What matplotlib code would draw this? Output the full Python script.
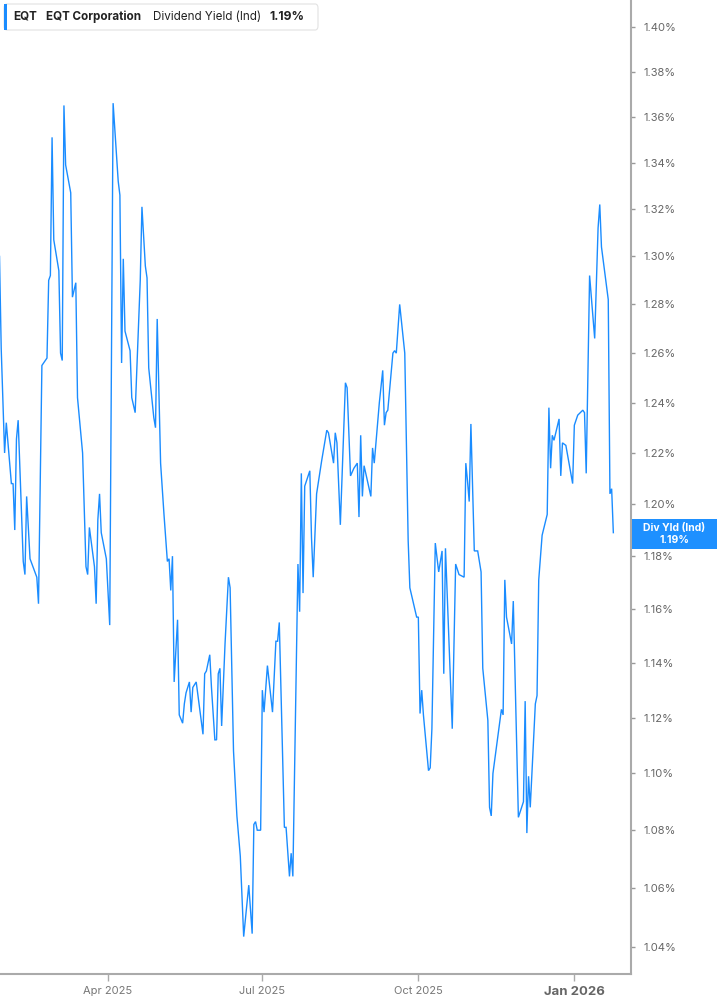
import matplotlib
matplotlib.use("Agg")
import matplotlib.pyplot as plt
import matplotlib.dates as mdates
from matplotlib.patches import FancyBboxPatch, Rectangle
from matplotlib.ticker import FixedLocator, NullLocator, FixedFormatter
import pandas as pd

# ---------------- data ----------------
dates = [
    "2025-01-27", "2025-01-28", "2025-01-30", "2025-01-31", "2025-02-03", "2025-02-04", "2025-02-05",
    "2025-02-06", "2025-02-07", "2025-02-10", "2025-02-11", "2025-02-12", "2025-02-14", "2025-02-18",
    "2025-02-19", "2025-02-21", "2025-02-24", "2025-02-25", "2025-02-26", "2025-02-27", "2025-02-28",
    "2025-03-03", "2025-03-04", "2025-03-05", "2025-03-06", "2025-03-07", "2025-03-10", "2025-03-11",
    "2025-03-13", "2025-03-14", "2025-03-17", "2025-03-19", "2025-03-20", "2025-03-21", "2025-03-24",
    "2025-03-25", "2025-03-26", "2025-03-27", "2025-03-28", "2025-03-31", "2025-04-02", "2025-04-04",
    "2025-04-07", "2025-04-08", "2025-04-09", "2025-04-10", "2025-04-11", "2025-04-14", "2025-04-15",
    "2025-04-17", "2025-04-20", "2025-04-21", "2025-04-23", "2025-04-24", "2025-04-25", "2025-04-28",
    "2025-04-29", "2025-04-30", "2025-05-02", "2025-05-04", "2025-05-06", "2025-05-07", "2025-05-08",
    "2025-05-09", "2025-05-10", "2025-05-12", "2025-05-13", "2025-05-15", "2025-05-16", "2025-05-17",
    "2025-05-19", "2025-05-20", "2025-05-21", "2025-05-23", "2025-05-27", "2025-05-28", "2025-05-29",
    "2025-05-31", "2025-06-01", "2025-06-03", "2025-06-04", "2025-06-05", "2025-06-06", "2025-06-07",
    "2025-06-09", "2025-06-11", "2025-06-12", "2025-06-14", "2025-06-16", "2025-06-18", "2025-06-20",
    "2025-06-23", "2025-06-25", "2025-06-26", "2025-06-27", "2025-06-28", "2025-06-30", "2025-07-01",
    "2025-07-02", "2025-07-04", "2025-07-07", "2025-07-09", "2025-07-10", "2025-07-11", "2025-07-14",
    "2025-07-15", "2025-07-17", "2025-07-18", "2025-07-19", "2025-07-22", "2025-07-23", "2025-07-24",
    "2025-07-25", "2025-07-26", "2025-07-29", "2025-07-30", "2025-07-31", "2025-08-02", "2025-08-05",
    "2025-08-08", "2025-08-09", "2025-08-12", "2025-08-13", "2025-08-14", "2025-08-16", "2025-08-19",
    "2025-08-20", "2025-08-22", "2025-08-24", "2025-08-26", "2025-08-27", "2025-08-28", "2025-08-29",
    "2025-08-30", "2025-09-03", "2025-09-04", "2025-09-05", "2025-09-08", "2025-09-10", "2025-09-11",
    "2025-09-12", "2025-09-13", "2025-09-16", "2025-09-17", "2025-09-18", "2025-09-20", "2025-09-23",
    "2025-09-25", "2025-09-26", "2025-09-30", "2025-10-01", "2025-10-02", "2025-10-03", "2025-10-04",
    "2025-10-07", "2025-10-08", "2025-10-09", "2025-10-11", "2025-10-13", "2025-10-15", "2025-10-16",
    "2025-10-17", "2025-10-21", "2025-10-23", "2025-10-25", "2025-10-28", "2025-10-29", "2025-10-30",
    "2025-10-31", "2025-11-01", "2025-11-03", "2025-11-05", "2025-11-07", "2025-11-08", "2025-11-11",
    "2025-11-12", "2025-11-13", "2025-11-14", "2025-11-19", "2025-11-20", "2025-11-21", "2025-11-22",
    "2025-11-25", "2025-11-26", "2025-11-29", "2025-12-02", "2025-12-03", "2025-12-04", "2025-12-05",
    "2025-12-06", "2025-12-09", "2025-12-10", "2025-12-11", "2025-12-13", "2025-12-16", "2025-12-17",
    "2025-12-18", "2025-12-19", "2025-12-20", "2025-12-23", "2025-12-24", "2025-12-25", "2025-12-27",
    "2025-12-31", "2026-01-01", "2026-01-03", "2026-01-06", "2026-01-07", "2026-01-08", "2026-01-10",
    "2026-01-13", "2026-01-15", "2026-01-16", "2026-01-17", "2026-01-21", "2026-01-22", "2026-01-23",
    "2026-01-24",
]
div_yield = [
    1.300, 1.262, 1.220, 1.232, 1.208, 1.208, 1.190,
    1.2255, 1.233, 1.178, 1.173, 1.203, 1.179, 1.172,
    1.162, 1.255, 1.258, 1.290, 1.292, 1.351, 1.307,
    1.294, 1.260, 1.257, 1.365, 1.339, 1.327, 1.283,
    1.289, 1.242, 1.220, 1.176, 1.173, 1.191, 1.176,
    1.162, 1.194, 1.204, 1.189, 1.179, 1.154, 1.366,
    1.332, 1.326, 1.256, 1.299, 1.269, 1.261, 1.242,
    1.236, 1.290, 1.321, 1.296, 1.291, 1.254, 1.234,
    1.230, 1.274, 1.216, 1.196, 1.178, 1.179, 1.167,
    1.180, 1.133, 1.156, 1.121, 1.118, 1.125, 1.129,
    1.133, 1.122, 1.131, 1.133, 1.114, 1.136, 1.137,
    1.143, 1.131, 1.112, 1.112, 1.136, 1.138, 1.117,
    1.147, 1.172, 1.168, 1.108, 1.085, 1.071, 1.0435,
    1.061, 1.0445, 1.082, 1.083, 1.080, 1.080, 1.130,
    1.122, 1.139, 1.122, 1.148, 1.148, 1.155, 1.081,
    1.081, 1.064, 1.072, 1.064, 1.177, 1.159, 1.212,
    1.166, 1.207, 1.213, 1.187, 1.172, 1.204, 1.217,
    1.229, 1.228, 1.216, 1.228, 1.224, 1.192, 1.248,
    1.246, 1.211, 1.214, 1.216, 1.195, 1.227, 1.203,
    1.215, 1.203, 1.222, 1.216, 1.240, 1.253, 1.231,
    1.236, 1.237, 1.260, 1.261, 1.260, 1.280, 1.260,
    1.186, 1.168, 1.157, 1.157, 1.1215, 1.130, 1.121,
    1.101, 1.102, 1.116, 1.185, 1.174, 1.182, 1.136,
    1.183, 1.116, 1.177, 1.173, 1.172, 1.216, 1.209,
    1.201, 1.2315, 1.182, 1.182, 1.174, 1.138, 1.119,
    1.088, 1.085, 1.100, 1.123, 1.121, 1.171, 1.157,
    1.147, 1.163, 1.0845, 1.090, 1.126, 1.079, 1.099,
    1.088, 1.125, 1.128, 1.171, 1.188, 1.196, 1.238,
    1.214, 1.227, 1.225, 1.2335, 1.211, 1.224, 1.223,
    1.208, 1.231, 1.235, 1.237, 1.236, 1.212, 1.292,
    1.266, 1.312, 1.322, 1.304, 1.282, 1.204, 1.206,
    1.189,
]

ytick_values = [1.04, 1.06, 1.08, 1.10, 1.12, 1.14, 1.16, 1.18, 1.20, 1.22,
                1.24, 1.26, 1.28, 1.30, 1.32, 1.34, 1.36, 1.38, 1.40]
xtick_dates = ["2025-04-01", "2025-07-01", "2025-10-01", "2026-01-01"]
xtick_labels = ["Apr 2025", "Jul 2025", "Oct 2025", "Jan 2026"]
header_parts = ["EQT", "EQT Corporation", "Dividend Yield (Ind)", "1.19%"]
last_label = "Div Yld (Ind)"
last_value_text = "1.19%"

# ---------------- figure ----------------
W, H = 717, 1005
fig = plt.figure(figsize=(W / 100, H / 100), dpi=100)
fig.patch.set_facecolor("white")
plt.rcParams["font.family"] = ["Inter", "DejaVu Sans"]

def fx(px):
    return px / W

def fy(py):
    return 1 - py / H

ax_right, ax_bottom = 631, 974
ax = fig.add_axes([0, fy(ax_bottom), fx(ax_right), ax_bottom / H])
ax.set_facecolor("white")

LINE = "#1a8cff"
x = pd.to_datetime(dates)
ax.plot(x, div_yield, color=LINE, lw=1.0, solid_joinstyle="miter")

ax.set_yscale("log")
ax.set_ylim(1.03097, 1.4123)
ax.set_xlim(pd.Timestamp("2025-01-27 07:00"), pd.Timestamp("2026-02-03 10:00"))

ax.yaxis.set_major_locator(FixedLocator(ytick_values))
ax.yaxis.set_major_formatter(FixedFormatter([f"{v:.2f}%" for v in ytick_values]))
ax.yaxis.set_minor_locator(NullLocator())
ax.yaxis.tick_right()
ax.tick_params(axis="y", which="major", direction="out", length=3, width=1,
               color="#999999", labelcolor="#666666", labelsize=8, pad=6)

xt = mdates.date2num(pd.to_datetime(xtick_dates))
ax.xaxis.set_major_locator(FixedLocator(xt))
ax.xaxis.set_major_formatter(FixedFormatter(xtick_labels))
ax.xaxis.set_minor_locator(NullLocator())
ax.tick_params(axis="x", which="major", direction="out", length=5, width=1,
               color="#aaaaaa", labelcolor="#777777", labelsize=8, pad=3.5)
for lbl in ax.get_xticklabels():
    if lbl.get_text() == "Jan 2026":
        lbl.set_fontweight("bold")
        lbl.set_fontsize(9.5)
        lbl.set_color("#666666")

for s in ["left", "top"]:
    ax.spines[s].set_visible(False)
for s in ["right", "bottom"]:
    ax.spines[s].set_color("#aaaaaa")
    ax.spines[s].set_linewidth(1.5)

# ---------------- header box ----------------
hb = FancyBboxPatch((fx(4), fy(30)), fx(318) - fx(4), fy(4) - fy(30),
                    boxstyle="round,pad=0,rounding_size=0.004",
                    transform=fig.transFigure, facecolor="white",
                    edgecolor="#e2e2e2", lw=0.8, zorder=5)
fig.add_artist(hb)
fig.add_artist(Rectangle((fx(4), fy(30)), fx(3), fy(4) - fy(30),
                         transform=fig.transFigure, facecolor=LINE,
                         edgecolor="none", zorder=6))
ty = fy(17)
fig.text(fx(13), ty, header_parts[0], fontsize=8.4, fontweight="bold",
         color="#222222", va="center", ha="left", zorder=7)
fig.text(fx(46), ty, header_parts[1], fontsize=8.4, fontweight="bold",
         color="#222222", va="center", ha="left", zorder=7)
fig.text(fx(153), ty, header_parts[2], fontsize=8.4, fontweight="normal",
         color="#222222", va="center", ha="left", zorder=7)
fig.text(fx(269), ty, header_parts[3], fontsize=8.8, fontweight="bold",
         color="#222222", va="center", ha="left", zorder=7)

# ---------------- last value tag ----------------
fig.add_artist(Rectangle((fx(632), fy(549)), fx(717) - fx(632), fy(519) - fy(549),
                         transform=fig.transFigure, facecolor="#1e90ff",
                         edgecolor="none", zorder=6))
fig.text(fx(674), fy(528), last_label, fontsize=7.5, fontweight="bold",
         color="white", va="center", ha="center", zorder=7)
fig.text(fx(674), fy(540), last_value_text, fontsize=7.5, fontweight="bold",
         color="white", va="center", ha="center", zorder=7)

fig.savefig("out.png", dpi=100, facecolor="white")
